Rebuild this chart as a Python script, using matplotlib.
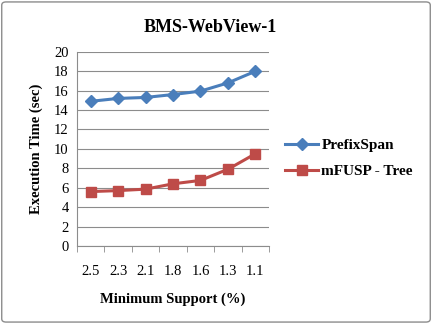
import matplotlib
matplotlib.use("Agg")
import matplotlib.pyplot as plt
from matplotlib.patches import FancyBboxPatch
import numpy as np

# data
supports = ["2.5", "2.3", "2.1", "1.8", "1.6", "1.3", "1.1"]
prefixspan = [14.9, 15.2, 15.3, 15.6, 15.95, 16.8, 18.0]
mfusp_tree = [5.6, 5.7, 5.85, 6.4, 6.75, 7.9, 9.5]

plt.rcParams['font.family'] = ['Liberation Serif', 'DejaVu Serif']

fig = plt.figure(figsize=(4.32, 3.24), dpi=100)
# outer border of the excel chart
fig.patches.append(FancyBboxPatch((0.004, 0.006), 0.992, 0.988, boxstyle="round,pad=0,rounding_size=0.01",
                                  transform=fig.transFigure, fill=False, edgecolor="#8c8c8c", linewidth=1.0))

ax = fig.add_axes([0.178, 0.241, 0.445, 0.599])
x = np.arange(len(supports))

ax.plot(x, prefixspan, color="#4A7EBB", marker="D", markersize=6, linewidth=2.2, label="PrefixSpan")
ax.plot(x, mfusp_tree, color="#BE4B48", marker="s", markersize=7, linewidth=2.2, label="mFUSP - Tree")

ax.set_xlim(-0.5, len(supports) - 0.5)
ax.set_ylim(0, 20)
ax.set_yticks(range(0, 21, 2))
ax.yaxis.grid(True, color="#8c8c8c", linewidth=0.8)
ax.set_axisbelow(True)

ax.set_xticks(x)
ax.set_xticklabels(supports, fontsize=10.5)
ax.set_xticks(np.arange(-0.5, len(supports), 1), minor=True)
ax.tick_params(axis="x", which="major", length=0, pad=14)
ax.tick_params(axis="x", which="minor", length=4, color="#8c8c8c")
ax.tick_params(axis="y", length=0, labelsize=10.5, pad=6)

for s in ["top", "right"]:
    ax.spines[s].set_visible(False)
ax.spines["left"].set_color("#8c8c8c")
ax.spines["bottom"].set_color("#8c8c8c")

ax.set_xlabel("Minimum Support (%)", fontsize=10.5, fontweight="bold", labelpad=10)
ax.set_ylabel("Execution Time (sec)", fontsize=10.5, fontweight="bold", labelpad=8)
fig.text(0.486, 0.915, "BMS-WebView-1", fontsize=13, fontweight="bold", ha="center", va="center")

ax.legend(loc="center left", bbox_to_anchor=(1.01, 0.45), frameon=False,
          prop={"weight": "bold", "size": 11}, handlelength=2.2, labelspacing=0.8, handletextpad=0.2)

fig.savefig("out.png", dpi=100)
